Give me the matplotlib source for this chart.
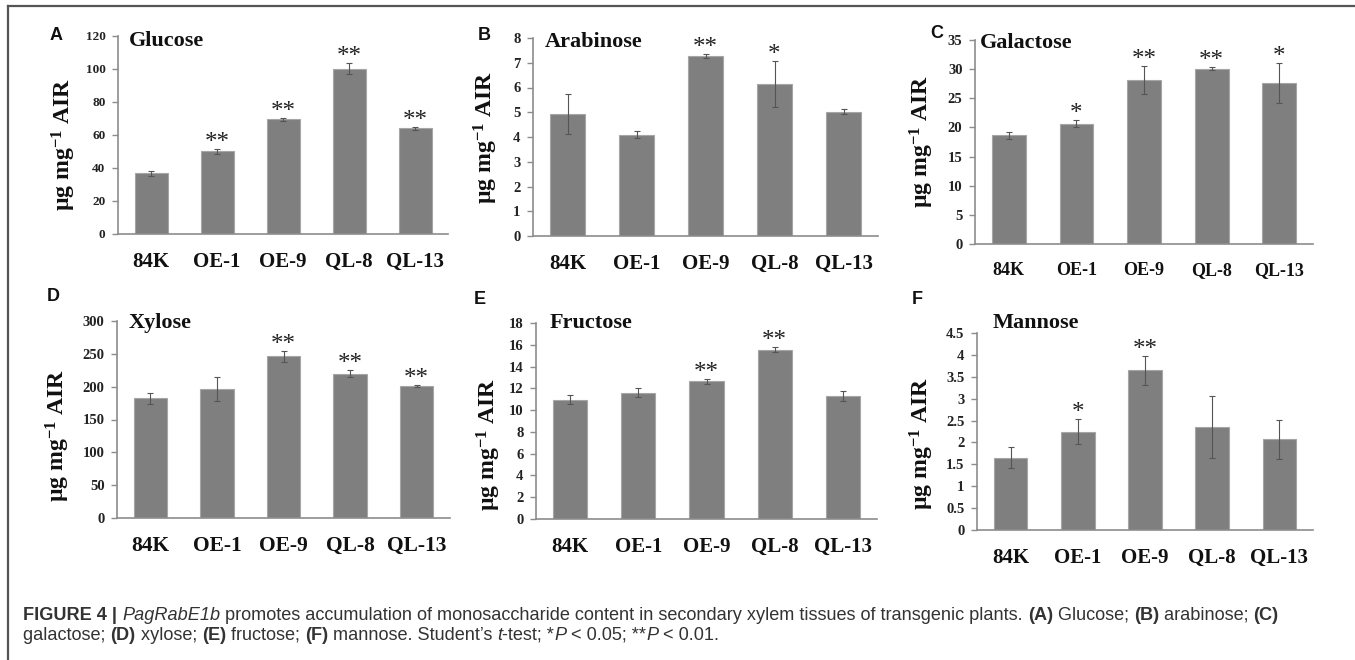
import matplotlib
matplotlib.use("Agg")
import matplotlib.pyplot as plt
from matplotlib.lines import Line2D
from matplotlib.font_manager import FontProperties

# ---------------- data ----------------
lines = ["84K", "OE-1", "OE-9", "QL-8", "QL-13"]

glucose = [36.8, 50.0, 69.5, 100.2, 64.0]
glucose_err = [1.5, 1.6, 1.0, 3.4, 0.8]
glucose_sig = ["", "**", "**", "**", "**"]

arabinose = [4.92, 4.10, 7.27, 6.15, 5.03]
arabinose_err = [0.80, 0.15, 0.08, 0.93, 0.10]
arabinose_sig = ["", "", "**", "*", ""]

galactose = [18.7, 20.6, 28.1, 30.1, 27.6]
galactose_err = [0.6, 0.6, 2.4, 0.3, 3.4]
galactose_sig = ["", "*", "**", "**", "*"]

xylose = [182, 196, 246, 220, 201]
xylose_err = [9, 18, 9, 6, 2]
xylose_sig = ["", "", "**", "**", "**"]

fructose = [10.95, 11.6, 12.65, 15.55, 11.3]
fructose_err = [0.40, 0.42, 0.22, 0.25, 0.42]
fructose_sig = ["", "", "**", "**", ""]

mannose = [1.65, 2.25, 3.65, 2.35, 2.07]
mannose_err = [0.24, 0.29, 0.33, 0.70, 0.45]
mannose_sig = ["", "*", "**", "", ""]

yticks_glu = [0, 20, 40, 60, 80, 100, 120]
yticks_ara = [0, 1, 2, 3, 4, 5, 6, 7, 8]
yticks_gal = [0, 5, 10, 15, 20, 25, 30, 35]
yticks_xyl = [0, 50, 100, 150, 200, 250, 300]
yticks_fru = [0, 2, 4, 6, 8, 10, 12, 14, 16, 18]
yticks_man = [0, 0.5, 1, 1.5, 2, 2.5, 3, 3.5, 4, 4.5]

# ---------------- style ----------------
plt.rcParams["font.family"] = ["Liberation Serif", "DejaVu Serif"]
plt.rcParams["font.weight"] = "bold"
plt.rcParams["mathtext.fontset"] = "custom"
plt.rcParams["mathtext.rm"] = "Liberation Serif:bold"
plt.rcParams["mathtext.bf"] = "Liberation Serif:bold"
plt.rcParams["mathtext.it"] = "Liberation Serif:italic:bold"

W, H = 1355, 660
fig = plt.figure(figsize=(W / 100, H / 100), dpi=100)

AXIS_GREY = "#8c8c8c"
BAR_GREY = "#7f7f7f"


def px_axes(left, top, right, bottom):
    return fig.add_axes([left / W, 1 - bottom / H, (right - left) / W, (bottom - top) / H])


# panel: (box in px, title, values, errors, stars, yticks, tick size, cat size,
#         title pos, ylabel pos, letter, letter pos)
panels = [
    ((118, 36, 448, 234), "Glucose", glucose, glucose_err, glucose_sig, yticks_glu,
     9.5, 15, (0.033, 0.975), (-0.165, 0.45), "A", (56, 36)),
    ((533, 38, 878, 236), "Arabinose", arabinose, arabinose_err, arabinose_sig, yticks_ara,
     10.5, 15, (0.035, 0.98), (-0.136, 0.5), "B", (484, 35)),
    ((975, 40, 1313, 244), "Galactose", galactose, galactose_err, galactose_sig, yticks_gal,
     10.5, 13, (0.015, 0.985), (-0.157, 0.505), "C", (937, 33)),
    ((117, 321, 450, 518), "Xylose", xylose, xylose_err, xylose_sig, yticks_xyl,
     10.5, 15.5, (0.035, 0.99), (-0.177, 0.42), "D", (53, 297)),
    ((536, 323, 877, 519), "Fructose", fructose, fructose_err, fructose_sig, yticks_fru,
     10.5, 15, (0.041, 1.0), (-0.137, 0.38), "E", (480, 299)),
    ((977, 333, 1313, 530), "Mannose", mannose, mannose_err, mannose_sig, yticks_man,
     10.5, 15, (0.045, 1.05), (-0.164, 0.44), "F", (917, 299)),
]

x = list(range(len(lines)))
for box, title, vals, errs, sig, yt, tsize, csize, tpos, ypos, letter, lpos in panels:
    ax = px_axes(*box)
    ax.bar(x, vals, width=0.5, color=BAR_GREY, edgecolor="#a6a6a6", linewidth=0.8, zorder=2)
    ax.errorbar(x, vals, yerr=errs, fmt="none", ecolor="#555555", elinewidth=0.8,
                capsize=2, capthick=0.8, zorder=3)
    for xi, v, e, s in zip(x, vals, errs, sig):
        if s:
            ax.annotate(s, (xi, v + e), xytext=(0, 0), textcoords="offset points",
                        ha="center", va="baseline", fontsize=18, fontweight="normal",
                        color="#222222")
    ax.set_xlim(-0.5, len(lines) - 0.5)
    ax.set_ylim(yt[0], yt[-1])
    ax.set_yticks(yt)
    ax.set_yticklabels([f"{t:g}" for t in yt])
    ax.set_xticks(x)
    ax.set_xticklabels(lines)
    for sp in ["top", "right"]:
        ax.spines[sp].set_visible(False)
    for sp in ["left", "bottom"]:
        ax.spines[sp].set_color(AXIS_GREY)
        ax.spines[sp].set_linewidth(1.2)
    ax.tick_params(axis="y", direction="out", length=4, width=1, color=AXIS_GREY,
                   labelsize=tsize, pad=5, labelcolor="#222222")
    ax.tick_params(axis="x", length=0, labelsize=csize, pad=13, labelcolor="#111111")
    ax.text(tpos[0], tpos[1], title, transform=ax.transAxes, ha="left", va="center",
            fontsize=16, color="#111111")
    ax.text(ypos[0], ypos[1], r"$\mathrm{µg\ mg^{-1}\ AIR}$", transform=ax.transAxes,
            rotation=90, ha="center", va="center", fontsize=17, color="#111111")
    fig.text(lpos[0] / W, 1 - lpos[1] / H, letter, ha="center", va="center",
             fontsize=13, fontweight="bold", family="Liberation Sans", color="#111111")

# outer frame (top and left lines)
fig.add_artist(Line2D([8 / W, 1], [1 - 6 / H, 1 - 6 / H], transform=fig.transFigure,
                      color="#555555", linewidth=1.6))
fig.add_artist(Line2D([8 / W, 8 / W], [0, 1 - 6 / H], transform=fig.transFigure,
                      color="#555555", linewidth=1.6))

# ---------------- caption ----------------
cap_line1 = [
    ("FIGURE 4 | ", "bold", "normal"),
    ("PagRabE1b", "normal", "italic"),
    (" promotes accumulation of monosaccharide content in secondary xylem tissues of transgenic plants. ",
     "normal", "normal"),
    ("(A)", "bold", "normal"), (" Glucose; ", "normal", "normal"),
    ("(B)", "bold", "normal"), (" arabinose; ", "normal", "normal"),
    ("(C)", "bold", "normal"),
]
cap_line2 = [
    ("galactose; ", "normal", "normal"), ("(D)", "bold", "normal"),
    (" xylose; ", "normal", "normal"), ("(E)", "bold", "normal"),
    (" fructose; ", "normal", "normal"), ("(F)", "bold", "normal"),
    (" mannose. Student\u2019s ", "normal", "normal"), ("t", "normal", "italic"),
    ("-test; *", "normal", "normal"), ("P", "normal", "italic"),
    (" < 0.05; **", "normal", "normal"), ("P", "normal", "italic"),
    (" < 0.01.", "normal", "normal"),
]

renderer = fig.canvas.get_renderer()


def piece_width(s, weight, style, size):
    fp = FontProperties(family="Liberation Sans", weight=weight, style=style, size=size)
    w1, _, _ = renderer.get_text_width_height_descent("x" + s + "x", fp, ismath=False)
    w0, _, _ = renderer.get_text_width_height_descent("xx", fp, ismath=False)
    return w1 - w0


def line_width(pieces, size):
    return sum(piece_width(s, w, st, size) for s, w, st in pieces)


cap_x0 = 23
cap_target = 1252
cap_size = 11 * cap_target / line_width(cap_line1, 11)


def draw_caption(pieces, ypx):
    xpx = cap_x0
    for s, w, st in pieces:
        fig.text(xpx / W, 1 - ypx / H, s, ha="left", va="center", fontsize=cap_size,
                 family="Liberation Sans", fontweight=w, fontstyle=st, color="#333333")
        xpx += piece_width(s, w, st, cap_size)


draw_caption(cap_line1, 615)
draw_caption(cap_line2, 635)

fig.savefig("out.png", dpi=100)
